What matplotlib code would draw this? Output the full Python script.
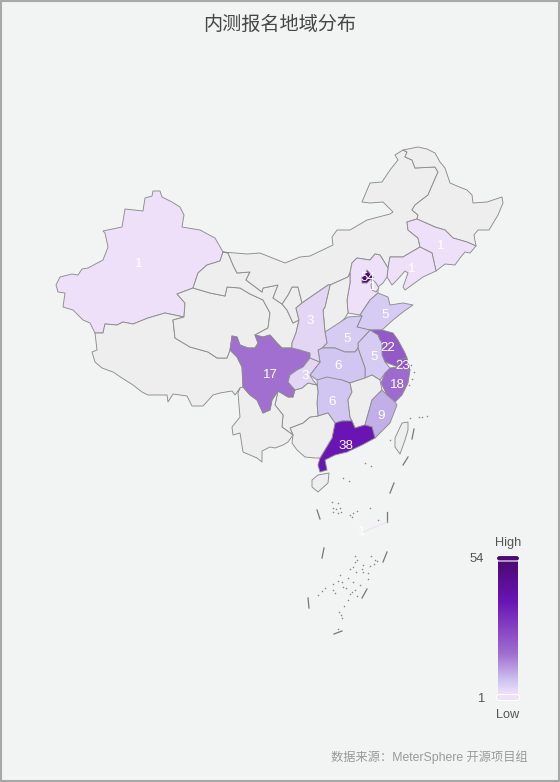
import numpy as np
import matplotlib
matplotlib.use('Agg')
import matplotlib.pyplot as plt
from matplotlib.colors import LinearSegmentedColormap
from matplotlib.patches import Polygon, FancyBboxPatch, Rectangle

plt.rcParams['font.family'] = ['Liberation Sans', 'Noto Sans CJK SC', 'DejaVu Sans']

# Outlines, in image pixels
XINJIANG = [(153,191),(160,191),(162,197),(172,202),(180,207),(184,215),(182,227),(200,230),(215,238),(223,252),(220,261),(207,265),(198,273),(193,288),(177,294),(185,303),(184,317),(165,313),(148,318),(133,324),(123,322),(117,325),(105,324),(103,333),(95,333),(90,323),(83,320),(73,310),(63,307),(65,293),(58,292),(56,285),(60,277),(72,274),(78,275),(82,269),(88,268),(103,260),(108,247),(105,233),(103,231),(122,227),(125,209),(143,211),(145,198),(152,196)]
TIBET = [(95,333),(103,333),(105,324),(117,325),(123,322),(133,324),(148,318),(165,313),(184,317),(173,320),(175,338),(190,347),(208,352),(217,358),(227,358),(230,350),(237,357),(242,367),(243,387),(240,388),(235,395),(232,391),(220,393),(213,395),(203,406),(192,406),(187,396),(173,394),(168,402),(167,395),(148,395),(142,392),(133,385),(122,378),(113,372),(102,368),(95,362),(92,352),(97,350)]
QINGHAI = [(177,294),(193,288),(210,293),(225,296),(227,287),(240,288),(250,294),(263,300),(270,313),(268,328),(255,335),(258,343),(255,348),(248,348),(240,345),(237,337),(232,336),(230,350),(227,358),(217,358),(208,352),(190,347),(175,338),(173,320),(184,317),(185,303)]
GANSU = [(223,252),(228,253),(233,265),(237,273),(250,272),(246,280),(262,292),(263,288),(278,285),(273,298),(282,304),(287,310),(293,323),(299,320),(296,333),(292,343),(292,348),(282,348),(277,343),(270,335),(263,337),(255,335),(268,328),(270,313),(263,300),(250,294),(240,288),(227,287),(225,296),(210,293),(193,288),(198,273),(207,265),(220,261)]
NINGXIA = [(292,287),(298,287),(302,303),(296,308),(299,320),(293,323),(287,310),(282,304),(288,295)]
INNER_MONGOLIA = [(223,252),(247,254),(260,253),(285,263),(300,257),(310,256),(333,245),(332,237),(337,230),(350,230),(367,220),(390,214),(393,212),(383,202),(370,203),(362,202),(370,183),(382,182),(390,170),(398,160),(395,155),(403,150),(407,152),(405,157),(412,160),(415,168),(435,167),(438,172),(428,195),(415,205),(412,210),(418,215),(417,219),(407,222),(408,230),(418,238),(420,247),(403,257),(390,257),(388,268),(380,255),(375,254),(370,260),(357,258),(352,263),(350,273),(348,277),(330,285),(328,285),(302,303),(298,287),(292,287),(288,295),(282,304),(273,298),(278,285),(263,288),(262,292),(246,280),(250,272),(237,273),(233,265),(228,253)]
HEILONGJIANG = [(403,150),(418,147),(427,149),(435,153),(440,162),(445,168),(450,183),(457,186),(467,190),(472,195),(473,203),(487,202),(502,197),(503,203),(498,215),(492,225),(489,230),(478,230),(474,235),(476,246),(467,242),(453,238),(445,230),(435,227),(417,219),(418,215),(412,210),(415,205),(428,195),(438,172),(435,167),(415,168),(412,160),(405,157),(407,152)]
JILIN = [(407,222),(417,219),(435,227),(445,230),(453,238),(467,242),(476,246),(470,253),(465,252),(460,258),(455,265),(445,264),(436,271),(432,253),(420,247),(418,238),(408,230)]
LIAONING = [(420,247),(432,253),(436,271),(423,277),(405,290),(403,287),(408,273),(405,271),(397,280),(392,285),(387,277),(388,268),(390,257),(403,257)]
HEBEI = [(352,263),(357,258),(370,260),(375,254),(380,255),(388,268),(387,277),(383,283),(378,287),(378,293),(370,300),(360,315),(348,313),(347,300),(350,283),(350,273)]
BEIJING = [(367,270),(372,276),(374,278),(370,280),(367,283),(362,283),(362,277),(365,275)]
TIANJIN = [(372,279),(376,283),(379,288),(376,292),(372,290),(371,285)]
SHANXI = [(350,273),(350,283),(347,300),(348,313),(345,318),(333,330),(325,332),(323,310),(325,307),(330,285),(348,277)]
SHANDONG = [(360,315),(370,300),(378,293),(388,297),(390,305),(403,303),(413,305),(403,312),(393,320),(382,330),(368,330),(357,327),(362,316)]
JIANGSU = [(368,330),(382,330),(393,333),(398,340),(405,353),(407,358),(398,360),(398,367),(385,362),(382,355),(382,343),(380,340),(378,335)]
SHANGHAI = [(398,360),(407,358),(410,370),(398,367)]
ZHEJIANG = [(385,373),(390,368),(398,367),(410,370),(408,383),(402,395),(395,402),(387,395),(381,383)]
ANHUI = [(370,330),(378,335),(380,340),(382,343),(382,355),(385,362),(390,368),(385,373),(380,380),(372,375),(365,378),(365,368),(358,348),(358,343)]
HENAN = [(325,332),(348,317),(362,316),(357,327),(370,330),(358,343),(358,348),(355,352),(345,352),(335,348),(322,348),(327,343)]
HUBEI = [(318,350),(322,348),(335,348),(345,352),(355,352),(358,348),(365,368),(365,378),(350,383),(342,380),(327,380),(317,380),(310,375),(320,362)]
HUNAN = [(317,380),(327,377),(342,380),(350,383),(352,392),(348,400),(350,417),(352,421),(342,421),(335,423),(328,413),(318,416),(317,403),(318,392)]
JIANGXI = [(350,383),(365,378),(372,375),(380,380),(382,390),(372,400),(365,425),(355,428),(352,421),(350,417),(348,400),(352,392)]
FUJIAN = [(382,390),(387,395),(395,402),(397,405),(390,423),(375,438),(372,427),(365,425),(372,400)]
GUANGDONG = [(335,423),(342,421),(352,421),(355,428),(365,425),(372,427),(375,438),(362,445),(347,452),(335,455),(325,460),(327,470),(320,472),(318,465),(320,458),(323,453),(332,438)]
GUANGXI = [(290,428),(303,423),(310,417),(318,416),(328,413),(335,423),(332,438),(323,453),(320,458),(315,458),(305,457),(297,450),(292,443),(293,435)]
GUIZHOU = [(278,391),(288,397),(293,397),(295,390),(302,388),(308,383),(317,385),(318,392),(317,403),(318,416),(310,417),(303,423),(290,428),(293,435),(282,427),(283,415),(275,405)]
YUNNAN = [(243,387),(250,395),(257,400),(263,413),(270,410),(272,400),(278,391),(275,405),(283,415),(282,427),(293,435),(288,442),(283,445),(275,448),(270,447),(262,451),(262,462),(257,458),(250,455),(243,452),(240,433),(233,435),(232,427),(240,417),(238,393),(240,388)]
SICHUAN = [(232,336),(237,337),(240,345),(248,348),(255,348),(258,343),(255,335),(263,337),(270,335),(277,343),(282,348),(292,348),(300,350),(310,353),(310,358),(303,367),(297,370),(290,375),(288,382),(295,388),(293,397),(288,397),(278,391),(272,400),(270,410),(263,413),(257,400),(250,395),(243,387),(242,367),(237,357),(230,350)]
CHONGQING = [(290,375),(297,370),(303,367),(310,358),(320,362),(310,375),(313,380),(317,385),(308,383),(302,388),(295,390),(288,382)]
SHAANXI = [(328,285),(330,285),(325,307),(323,310),(325,332),(327,343),(322,348),(318,350),(320,362),(310,358),(310,353),(300,350),(292,348),(292,343),(296,333),(299,320),(296,308),(302,303)]
HAINAN = [(312,480),(318,475),(329,473),(328,483),(318,492),(312,487)]
TAIWAN = [(408,422),(402,423),(395,438),(395,447),(400,454),(405,440),(408,430)]

OUTLINES = [XINJIANG, TIBET, QINGHAI, GANSU, NINGXIA, INNER_MONGOLIA, HEILONGJIANG, JILIN, LIAONING, HEBEI,
            SHANXI, SHANDONG, JIANGSU, ZHEJIANG, ANHUI, HENAN, HUBEI, HUNAN, JIANGXI, FUJIAN, GUANGDONG, GUANGXI,
            GUIZHOU, YUNNAN, SICHUAN, CHONGQING, SHAANXI, HAINAN, TAIWAN, SHANGHAI, BEIJING, TIANJIN]
# Province values; 0 means no data
VALUES = [1, 0, 0, 0, 0, 0, 0, 1, 1, 1,
          0, 5, 22, 18, 5, 5, 6, 6, 0, 9, 38, 0,
          0, 0, 17, 3, 3, 0, 0, 23, 54, 1]

LABEL_TEXT = ['1', '1', '1', '5', '3', '5', '5', '22', '23', '18', '6', '17', '3', '6', '9', '38', '54', '1', '1']
LABEL_X = [139, 412, 441, 385, 310, 347, 374, 388, 403, 397, 338, 270, 305, 332, 381, 346, 368, 373, 362]
LABEL_Y = [264, 269, 246, 315, 321, 339, 357, 348, 366, 385, 366, 375, 376, 402, 416, 446, 278, 287, 532]

DASH_X0 = [394, 387, 317, 324, 387, 367, 308, 334, 414, 408]
DASH_Y0 = [483, 512, 510, 548, 552, 589, 598, 634, 429, 457]
DASH_X1 = [390, 387, 320, 322, 383, 362, 309, 342, 412, 403]
DASH_Y1 = [493, 522, 519, 558, 562, 598, 608, 631, 439, 465]

ISLAND_X = [332,338,333,336,340,341,333,338,350,353,357,352,370,378,343,349,355,357,355,371,375,377,374,370,363,362,353,350,356,363,368,340,348,353,360,368,338,342,333,343,346,325,322,318,333,335,352,350,355,357,348,344,339,341,342,338,410,419,427,422,365,371,390,411,414,412,409]
ISLAND_Y = [502,503,508,509,508,512,512,513,515,513,511,517,508,520,478,481,556,560,562,556,560,561,564,566,565,569,567,569,572,572,573,575,578,582,585,579,581,582,584,587,588,588,591,595,590,593,592,594,590,596,600,606,612,615,618,629,418,417,416,417,463,466,440,365,372,379,385]

COLOR_VALUES = [1, 6, 17, 38, 54]
COLOR_STOPS = ['#eee0f8', '#d0c6f1', '#a06fd0', '#6a14b4', '#4b0a74']
NO_DATA = '#eeeeee'
EDGE = '#8c8c8c'

cmap = LinearSegmentedColormap.from_list(
    'enroll', [((v - 1) / 53, c) for v, c in zip(COLOR_VALUES, COLOR_STOPS)])

fig = plt.figure(figsize=(5.6, 7.82), dpi=100, facecolor='#f2f4f3')
ax = fig.add_axes([0, 0, 1, 1])
ax.set_xlim(0, 560)
ax.set_ylim(782, 0)
ax.axis('off')

# Outer frame
ax.add_patch(Rectangle((1, 1), 558, 780, fill=False, ec='#a8a8a8', lw=1.5))

for outline, value in zip(OUTLINES, VALUES):
    fc = NO_DATA if value == 0 else cmap((value - 1) / 53)
    ax.add_patch(Polygon(outline, closed=True, fc=fc, ec=EDGE, lw=0.65, joinstyle='round', zorder=2))

# Nine-dash line and small islands
for x0, y0, x1, y1 in zip(DASH_X0, DASH_Y0, DASH_X1, DASH_Y1):
    ax.plot([x0, x1], [y0, y1], color='#777777', lw=0.9, zorder=2)
ax.scatter(ISLAND_X, ISLAND_Y, s=1.3, color='#888888', linewidths=0, zorder=2)
ax.plot([363, 387], [532, 522], color='#eee0f8', lw=0.8, zorder=2)

for label, x, y in zip(LABEL_TEXT, LABEL_X, LABEL_Y):
    ax.text(x, y, label, color='white', fontsize=9.6, ha='center', va='center', zorder=4)

# Legend bar
gradient = np.linspace(1, 0, 256).reshape(-1, 1)
ax.imshow(gradient, cmap=cmap, extent=(498, 518, 694, 561), aspect='auto', zorder=3, vmin=0, vmax=1)
ax.set_xlim(0, 560)
ax.set_ylim(782, 0)
ax.add_patch(FancyBboxPatch((496.5, 555.5), 23, 5.5, boxstyle='round,pad=0,rounding_size=2.7',
                            fc='#4b0a74', ec='white', lw=0.8, zorder=4))
ax.add_patch(FancyBboxPatch((496.5, 694.5), 23, 6, boxstyle='round,pad=0,rounding_size=2.7',
                            fc='#eee0f8', ec='white', lw=0.8, zorder=4))
ax.text(508, 543, 'High', color='#555555', fontsize=9.2, ha='center', va='center')
ax.text(508, 715, 'Low', color='#555555', fontsize=9.2, ha='center', va='center')
ax.text(484, 559, '54', color='#555555', fontsize=9.4, ha='right', va='center')
ax.text(484, 699, '1', color='#555555', fontsize=9.4, ha='right', va='center')

ax.text(280, 25, '内测报名地域分布', color='#464646', fontsize=13.8, ha='center', va='center')
ax.text(528, 757, '数据来源：MeterSphere 开源项目组', color='#999999', fontsize=8.8, ha='right', va='center')

fig.savefig('out.png', dpi=100, facecolor=fig.get_facecolor())
